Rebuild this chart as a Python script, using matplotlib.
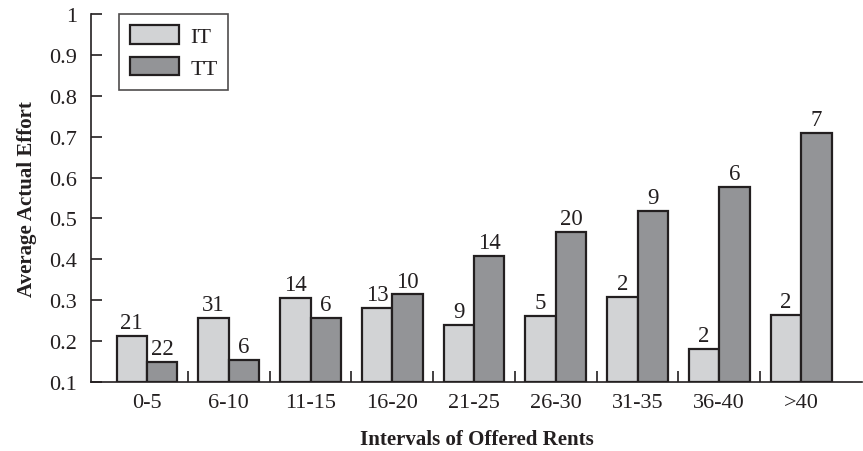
import matplotlib
matplotlib.use("Agg")
import matplotlib.pyplot as plt
import numpy as np

categories = ["0-5", "6-10", "11-15", "16-20", "21-25", "26-30", "31-35", "36-40", ">40"]
it_effort = [0.213, 0.256, 0.305, 0.281, 0.240, 0.261, 0.308, 0.181, 0.265]
tt_effort = [0.150, 0.155, 0.256, 0.314, 0.408, 0.466, 0.518, 0.578, 0.710]
it_counts = [21, 31, 14, 13, 9, 5, 2, 2, 2]
tt_counts = [22, 6, 6, 10, 14, 20, 9, 6, 7]
y_ticks = [0.1, 0.2, 0.3, 0.4, 0.5, 0.6, 0.7, 0.8, 0.9, 1.0]
y_tick_labels = ["0.1", "0.2", "0.3", "0.4", "0.5", "0.6", "0.7", "0.8", "0.9", "1"]

plt.rcParams["font.family"] = ["Liberation Serif", "DejaVu Serif"]

fig = plt.figure(figsize=(8.63, 4.52), dpi=100)
ax = fig.add_axes([91 / 863, 69 / 452, 771 / 863, 368 / 452])

it_color = "#d2d3d5"
tt_color = "#939497"
edge = "#231f20"
width = 0.373
x = np.arange(len(categories))
base = 0.1

ax.bar(x - width / 2, np.array(it_effort) - base, width, bottom=base,
       color=it_color, edgecolor=edge, linewidth=1.6, label="IT", zorder=3)
ax.bar(x + width / 2, np.array(tt_effort) - base, width, bottom=base,
       color=tt_color, edgecolor=edge, linewidth=1.6, label="TT", zorder=3)

for xi, v, c in zip(x, it_effort, it_counts):
    ax.text(xi - width / 2, v + 0.007, str(c), ha="center", va="bottom",
            fontsize=16.5, color="#231f20")
for xi, v, c in zip(x, tt_effort, tt_counts):
    ax.text(xi + width / 2, v + 0.007, str(c), ha="center", va="bottom",
            fontsize=16.5, color="#231f20")

ax.set_xlim(-0.685, 8.746)
ax.set_ylim(0.1, 1.0)

ax.spines["top"].set_visible(False)
ax.spines["right"].set_visible(False)
for s in ("left", "bottom"):
    ax.spines[s].set_linewidth(1.2)
    ax.spines[s].set_color("#231f20")

ax.set_yticks(y_ticks)
ax.set_yticklabels(y_tick_labels)
ax.tick_params(axis="y", direction="in", length=8, width=1.2, pad=10,
               labelsize=16, colors="#231f20")

ax.set_xticks(x)
ax.set_xticklabels(categories)
ax.tick_params(axis="x", which="major", length=0, pad=8, labelsize=16,
               colors="#231f20")
ax.set_xticks(x[:-1] + 0.5, minor=True)
ax.tick_params(axis="x", which="minor", direction="in", length=8, width=1.2,
               color="#231f20")

ax.set_ylabel("Average Actual Effort", fontsize=15, fontweight="bold",
              color="#231f20", labelpad=9)
ax.set_xlabel("Intervals of Offered Rents", fontsize=15, fontweight="bold",
              color="#231f20", labelpad=12)

leg = ax.legend(loc="upper left", bbox_to_anchor=(28 / 771, 1.0), fontsize=16,
                frameon=True, fancybox=False, edgecolor="#231f20",
                handlelength=2.2, handleheight=0.9, borderpad=0.5,
                labelspacing=0.45, handletextpad=0.5, borderaxespad=0)
leg.get_frame().set_linewidth(1.2)
for t in leg.get_texts():
    t.set_color("#231f20")

fig.savefig("out.png", dpi=100)
